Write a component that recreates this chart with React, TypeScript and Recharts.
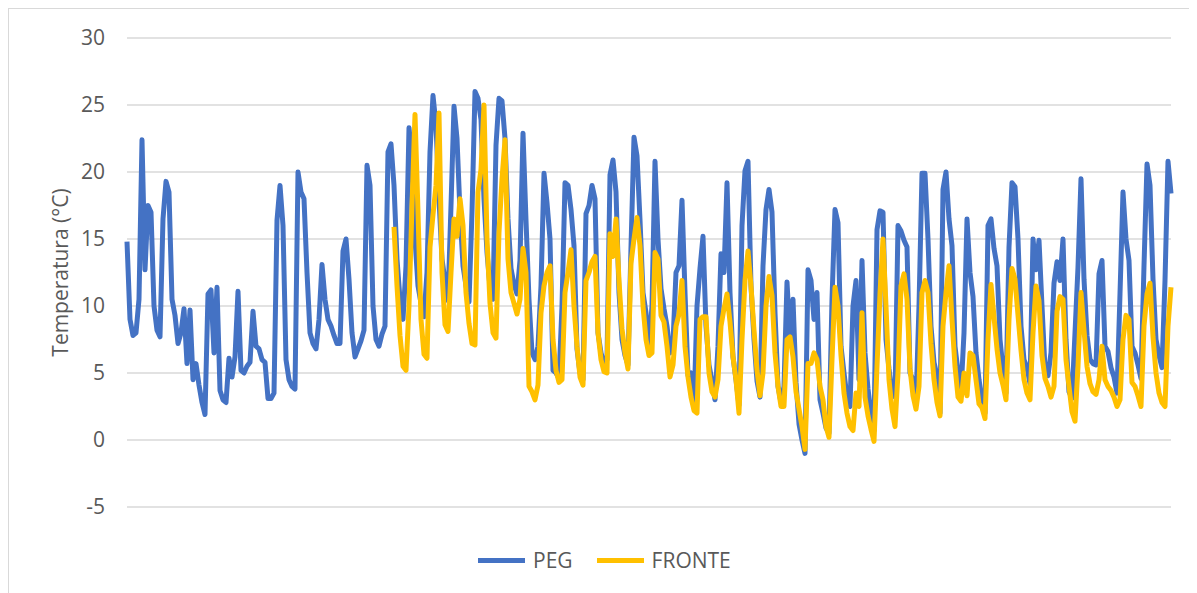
import React from 'react';
import { LineChart, Line, XAxis, YAxis, CartesianGrid, Legend } from 'recharts';

// PEG readings, one per sample step
const peg: number[] = [
  14.8, 9.0, 7.8, 8.0, 10.5, 22.4, 12.7, 17.5, 17.0, 10.0,
  8.2, 7.7, 16.5, 19.3, 18.5, 10.5, 9.3, 7.2, 8.0, 9.8,
  5.7, 9.7, 4.5, 5.7, 4.1, 2.8, 1.9, 10.9, 11.2, 6.5,
  11.4, 3.7, 3.0, 2.8, 6.1, 4.7, 6.2, 11.1, 5.2, 5.0,
  5.5, 5.8, 9.6, 7.0, 6.8, 6.0, 5.8, 3.1, 3.1, 3.5,
  16.4, 19.0, 16.0, 6.0, 4.5, 4.0, 3.8, 20.0, 18.5, 18.0,
  12.5, 8.0, 7.2, 6.8, 9.0, 13.1, 10.5, 9.0, 8.5, 7.8,
  7.2, 7.2, 14.1, 15.0, 12.0, 8.0, 6.2, 6.8, 7.4, 8.2,
  20.5, 19.0, 10.0, 7.5, 7.0, 7.9, 8.5, 21.5, 22.1, 19.0,
  13.5, 10.5, 9.0, 13.0, 23.3, 21.0, 15.0, 11.5, 10.2, 9.2,
  12.5, 21.5, 25.7, 23.5, 18.0, 13.5, 11.9, 10.4, 17.5, 24.9,
  22.5, 17.0, 13.0, 11.5, 10.3, 17.0, 26.0, 25.5, 23.9, 18.0,
  14.0, 11.4, 10.5, 22.0, 25.5, 25.3, 22.5, 16.5, 12.8, 11.6,
  10.9, 13.4, 22.9, 16.4, 10.5, 6.5, 6.0, 7.0, 11.5, 19.9,
  17.7, 15.0, 5.2, 5.0, 4.6, 10.0, 19.2, 19.0, 17.2, 14.5,
  6.8, 5.0, 4.5, 16.9, 17.5, 19.0, 18.0, 8.0, 6.5, 5.7,
  6.0, 19.8, 20.9, 18.5, 11.0, 7.5, 6.3, 5.6, 14.4, 22.6,
  21.2, 16.4, 11.0, 9.5, 6.9, 10.0, 20.8, 15.0, 11.3, 9.8,
  8.5, 6.5, 7.3, 12.5, 13.0, 17.9, 11.0, 4.8, 5.0, 2.5,
  10.0, 12.8, 15.2, 8.5, 5.6, 4.4, 3.0, 7.0, 13.9, 12.5,
  19.2, 11.0, 6.2, 4.5, 2.6, 16.0, 20.1, 20.8, 11.5, 7.5,
  4.4, 3.2, 13.0, 17.2, 18.7, 17.0, 9.5, 4.0, 2.8, 4.0,
  11.8, 7.5, 10.5, 4.3, 1.2, 0.0, -1.0, 12.7, 11.9, 9.0,
  11.0, 3.0, 2.0, 0.9, 0.5, 10.5, 17.2, 16.2, 7.0, 5.0,
  3.2, 2.5, 10.0, 11.9, 4.5, 13.4, 6.5, 3.8, 2.0, 0.7,
  15.7, 17.1, 17.0, 7.5, 5.3, 3.5, 3.2, 16.0, 15.6, 14.9,
  14.4, 5.0, 4.5, 2.8, 10.0, 19.9, 19.9, 15.0, 8.5, 5.8,
  4.8, 2.0, 18.7, 20.0, 16.5, 14.5, 7.0, 5.1, 3.6, 8.0,
  16.5, 12.5, 10.7, 6.5, 4.5, 3.0, 2.0, 16.0, 16.5, 14.3,
  13.0, 7.5, 5.3, 3.5, 14.4, 19.2, 18.9, 15.0, 8.5, 6.0,
  5.4, 4.2, 15.0, 12.7, 14.9, 10.0, 5.3, 4.8, 6.5, 11.7,
  13.3, 11.9, 15.0, 7.5, 3.6, 3.1, 8.0, 12.9, 19.5, 12.0,
  7.8, 6.0, 5.7, 5.6, 12.4, 13.4, 7.0, 6.6, 5.4, 4.7,
  3.5, 10.9, 18.5, 15.0, 13.4, 7.0, 6.5, 5.6, 4.6, 13.0,
  20.6, 19.0, 12.0, 7.5, 6.3, 5.4, 11.9, 20.8, 18.4,
];

// FRONTE starts later (sample 89)
const fronteStart = 89;
const fronte: number[] = [
  15.9,
  11.5, 7.8, 5.5, 5.2, 10.0, 17.5, 24.3, 17.0, 9.0, 6.4,
  6.1, 14.4, 16.8, 19.0, 24.4, 12.5, 8.6, 8.1, 12.5, 16.5,
  15.2, 18.0, 16.0, 11.0, 8.7, 7.2, 7.1, 18.5, 20.2, 25.0,
  15.0, 10.2, 8.0, 7.6, 15.5, 19.5, 22.4, 13.5, 11.0, 10.2,
  9.4, 10.5, 14.3, 12.5, 4.0, 3.6, 3.0, 4.1, 9.5, 11.5,
  12.5, 13.0, 7.5, 5.2, 4.3, 4.5, 11.0, 12.5, 14.2, 10.0,
  7.0, 4.7, 4.1, 11.9, 12.5, 13.3, 13.7, 8.0, 6.0, 5.1,
  5.0, 15.4, 13.7, 16.5, 11.9, 8.3, 6.5, 5.3, 13.2, 15.0,
  16.6, 14.5, 10.0, 7.5, 6.3, 6.5, 14.0, 13.5, 9.3, 8.8,
  7.0, 4.7, 5.6, 8.5, 9.4, 11.9, 7.0, 4.7, 3.2, 2.2,
  2.0, 9.0, 9.2, 9.2, 5.0, 3.6, 3.2, 4.5, 8.5, 9.8,
  10.9, 8.8, 6.2, 4.5, 2.0, 7.5, 11.9, 14.1, 11.5, 8.2,
  5.2, 3.3, 5.0, 10.0, 12.2, 10.8, 6.5, 4.0, 2.5, 2.5,
  7.5, 7.7, 6.2, 3.6, 2.3, 1.0, -0.7, 5.7, 5.7, 6.5,
  6.0, 4.0, 3.0, 1.0, 0.2, 6.0, 11.4, 10.0, 6.3, 3.5,
  2.0, 1.0, 0.7, 3.5, 2.5, 9.5, 3.2, 1.8, 0.8, -0.1,
  5.5, 10.9, 15.0, 10.0, 4.5, 2.3, 1.0, 5.0, 11.5, 12.4,
  10.5, 5.3, 3.3, 2.3, 4.0, 11.0, 11.9, 11.0, 7.2, 4.5,
  2.8, 1.8, 8.5, 11.0, 13.0, 9.0, 5.5, 3.2, 2.9, 5.0,
  3.3, 6.5, 6.3, 4.5, 2.7, 2.4, 1.6, 7.5, 11.6, 9.2,
  6.8, 5.0, 4.1, 3.0, 9.0, 12.8, 12.0, 9.3, 6.7, 4.5,
  3.5, 3.0, 8.0, 11.5, 10.4, 6.3, 4.6, 4.0, 3.2, 4.0,
  9.6, 10.7, 10.5, 6.0, 4.0, 2.1, 1.4, 5.5, 11.0, 8.2,
  5.5, 4.2, 3.6, 3.4, 4.5, 7.0, 4.5, 4.0, 3.7, 3.2,
  2.5, 3.0, 7.5, 9.3, 9.0, 4.3, 4.0, 3.3, 2.5, 8.5,
  10.9, 11.7, 7.7, 5.0, 3.5, 2.8, 2.5, 8.5, 11.4,
];

const yTicks = [-5, 0, 5, 10, 15, 20, 25, 30];

const series = [
  { key: 'PEG', color: '#4472C4' },
  { key: 'FRONTE', color: '#FFC000' },
];

const data = peg.map((v, i) => ({
  i,
  PEG: v,
  FRONTE: i >= fronteStart ? fronte[i - fronteStart] : null,
}));

const FONT = '"Open Sans", "DejaVu Sans", sans-serif';
const TEXT = '#595959';

const LegendBox = () => (
  <div style={{ display: 'flex', alignItems: 'center', fontFamily: FONT, fontSize: 21, color: TEXT }}>
    {series.map((s, idx) => (
      <div key={s.key} style={{ display: 'flex', alignItems: 'center', marginLeft: idx ? 24 : 0 }}>
        <span style={{ display: 'inline-block', width: 47, height: 5, background: s.color, marginRight: 8 }} />
        <span>{s.key}</span>
      </div>
    ))}
  </div>
);

const YLabel = (props: any) => {
  const vb = props.viewBox || {};
  const cx = 51;
  const cy = vb.y + vb.height / 2;
  return (
    <text x={cx} y={cy} transform={`rotate(-90, ${cx}, ${cy})`} textAnchor="middle" dominantBaseline="central"
      fill={TEXT} fontSize={21} fontFamily={FONT}>
      Temperatura (°C)
    </text>
  );
};

export default function App() {
  return (
    <div style={{ width: 1180, height: 590, border: '1px solid #d9d9d9', background: '#fff' }}>
      <LineChart width={1180} height={588} data={data} margin={{ top: 29, right: 18, bottom: 90, left: 58 }}>
        <CartesianGrid vertical={false} stroke="#d9d9d9" strokeWidth={1.3} />
        <XAxis dataKey="i" hide />
        <YAxis
          domain={[-5, 30]}
          ticks={yTicks}
          width={60}
          axisLine={false}
          tickLine={false}
          tickSize={0}
          tickMargin={22}
          tick={{ fill: TEXT, fontSize: 21, fontFamily: FONT }}
          label={<YLabel />}
        />
        <Legend
          verticalAlign="middle"
          align="center"
          layout="horizontal"
          content={<LegendBox />}
          wrapperStyle={{ top: 537, left: 469, width: 'auto', height: 22 }}
        />
        {series.map((s) => (
          <Line
            key={s.key}
            dataKey={s.key}
            type="linear"
            stroke={s.color}
            strokeWidth={5}
            strokeLinejoin="round"
            dot={false}
            activeDot={false}
            connectNulls={false}
            isAnimationActive={false}
          />
        ))}
      </LineChart>
    </div>
  );
}
